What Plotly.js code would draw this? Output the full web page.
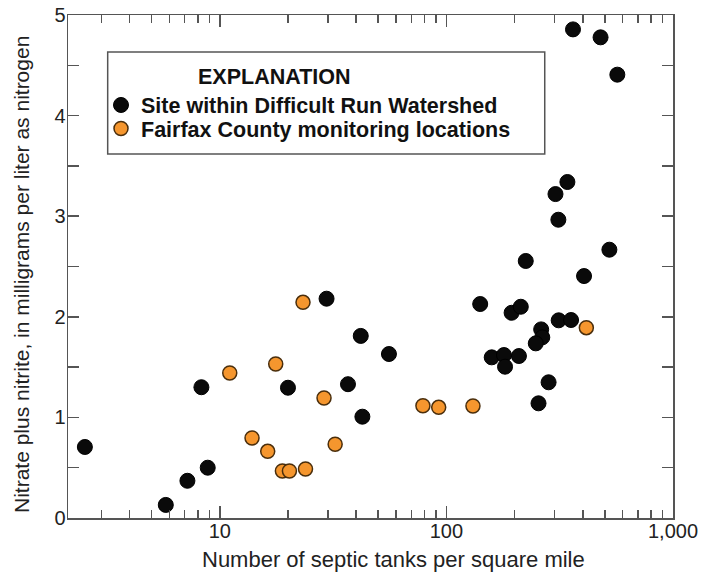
<!DOCTYPE html>
<html>
<head>
<meta charset="utf-8">
<script src="https://cdn.plot.ly/plotly-3.0.1.min.js"></script>
<style>html,body{margin:0;padding:0;background:#fff;}#chart{width:702px;height:574px;}</style>
</head>
<body>
<div id="chart"></div>
<script>
// Site within Difficult Run Watershed (black)
const siteTanks = [2.54, 5.78, 7.2, 8.3, 8.85, 29.6, 20.0, 41.9, 55.8, 36.8, 42.6,
  342, 303, 312, 524, 224, 405, 141, 194, 213, 313, 355, 262, 265, 248,
  158.5, 179.5, 181.5, 209, 282.5, 255, 362, 479, 568];
const siteNitrate = [0.706, 0.13, 0.37, 1.30, 0.50, 2.18, 1.295, 1.81, 1.63, 1.33, 1.007,
  3.34, 3.22, 2.965, 2.667, 2.555, 2.405, 2.127, 2.04, 2.10, 1.965, 1.968, 1.875, 1.796, 1.736,
  1.597, 1.62, 1.504, 1.61, 1.349, 1.14, 4.857, 4.778, 4.407];
// Fairfax County monitoring locations (orange)
const fairfaxTanks = [11.07, 13.88, 23.3, 17.66, 28.85, 16.28, 18.9, 20.3, 23.9, 32.3, 78.8, 92.5, 131, 414.6];
const fairfaxNitrate = [1.441, 0.795, 2.144, 1.531, 1.193, 0.663, 0.467, 0.467, 0.487, 0.733, 1.116, 1.10, 1.113, 1.892];

const xTickVals = [10, 100, 1000];
const xTickText = ['10', '100', '1,000'];
const xMinorVals = [3,4,5,6,7,8,9,20,30,40,50,60,70,80,90,200,300,400,500,600,700,800,900];
const yTickVals = [0, 1, 2, 3, 4, 5];

const xTitle = 'Number of septic tanks per square mile';
const yTitle = 'Nitrate plus nitrite, in milligrams per liter as nitrogen';
const legendTitle = 'EXPLANATION';

const FONT = '"Liberation Sans", Arial, Helvetica, sans-serif';
const AX = '#555';
const LEGFONT = {family: FONT, size: 21.5, color: '#111', weight: 'bold'};

const traces = [
  {
    type: 'scatter', mode: 'markers', name: 'Site within Difficult Run Watershed',
    x: siteTanks, y: siteNitrate, legend: 'legend',
    marker: {color: '#0a0a0a', size: 15, line: {color: '#000', width: 1}}
  },
  {
    type: 'scatter', mode: 'markers', name: 'Fairfax County monitoring locations',
    x: fairfaxTanks, y: fairfaxNitrate, legend: 'legend2',
    marker: {color: '#F5962E', size: 14, line: {color: '#4a2e0c', width: 1.5}}
  }
];

const layout = {
  width: 702, height: 574,
  margin: {l: 68, r: 29, t: 15, b: 56},
  paper_bgcolor: '#fff', plot_bgcolor: '#fff',
  font: {family: FONT, size: 20, color: '#222'},
  showlegend: true,
  legend: {
    x: (101 - 68) / 605, y: (518 - 105) / 503, xanchor: 'left', yanchor: 'middle',
    bgcolor: 'rgba(0,0,0,0)', borderwidth: 0, font: LEGFONT
  },
  legend2: {
    x: (101 - 68) / 605, y: (518 - 128.5) / 503, xanchor: 'left', yanchor: 'middle',
    bgcolor: 'rgba(0,0,0,0)', borderwidth: 0, font: LEGFONT
  },
  xaxis: {
    type: 'log', range: [Math.log10(2.14), 3],
    tickvals: xTickVals, ticktext: xTickText,
    ticks: 'inside', ticklen: 12, tickwidth: 1.5, tickcolor: AX,
    minor: {tickvals: xMinorVals, ticks: 'inside', ticklen: 8, tickwidth: 1.5, tickcolor: AX, showgrid: false},
    showline: true, linecolor: AX, linewidth: 1.5, mirror: 'allticks',
    showgrid: false, zeroline: false,
    ticklabelstandoff: -6,
    tickfont: {family: FONT, size: 20, color: '#222'}
  },
  yaxis: {
    range: [0, 5],
    tickvals: yTickVals,
    ticks: 'inside', ticklen: 11, tickwidth: 1.5, tickcolor: AX,
    minor: {dtick: 0.5, ticks: 'inside', ticklen: 11, tickwidth: 1.5, tickcolor: AX, showgrid: false},
    showline: true, linecolor: AX, linewidth: 1.5, mirror: 'allticks',
    showgrid: false, zeroline: false,
    tickfont: {family: FONT, size: 20, color: '#222'},
    ticklabelstandoff: -3
  },
  shapes: [{
    type: 'rect', xref: 'paper', yref: 'paper',
    x0: 0.0656, x1: 0.788, y0: 0.7237, y1: 0.9264,
    line: {color: AX, width: 1.5}, fillcolor: 'rgba(0,0,0,0)'
  }],
  annotations: [
    {
      xref: 'paper', yref: 'paper', x: (274 - 68) / 605, y: (518 - 77.5) / 503,
      xanchor: 'center', yanchor: 'middle', showarrow: false,
      text: legendTitle, font: LEGFONT
    },
    {
      xref: 'paper', yref: 'paper', x: (393 - 68) / 605, y: (518 - 559) / 503,
      xanchor: 'center', yanchor: 'middle', showarrow: false,
      text: xTitle, font: {family: FONT, size: 22, color: '#222'}
    },
    {
      xref: 'paper', yref: 'paper', x: (22 - 68) / 605, y: (518 - 275) / 503,
      xanchor: 'center', yanchor: 'middle', showarrow: false, textangle: -90,
      text: yTitle, font: {family: FONT, size: 21, color: '#222'}
    }
  ]
};

Plotly.newPlot('chart', traces, layout, {displayModeBar: false, staticPlot: true});
</script>
</body>
</html>
